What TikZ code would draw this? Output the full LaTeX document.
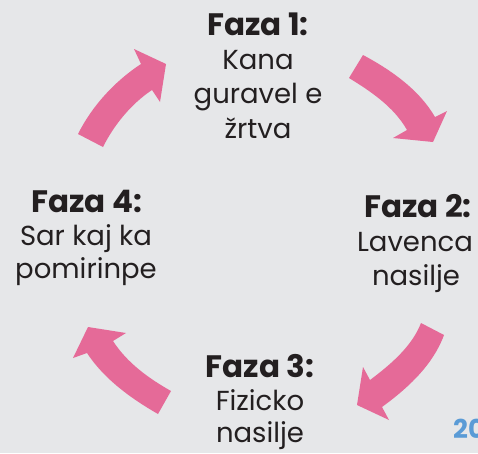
\documentclass[tikz,border=0pt]{standalone}
\usepackage{fontspec}
\setmainfont{Poppins}
\definecolor{bg}{HTML}{E6E7E9}
\definecolor{pinkarrow}{HTML}{E56A98}
\definecolor{txt}{HTML}{231F20}
\definecolor{pageblue}{HTML}{5A9BD6}
\begin{document}
\begin{tikzpicture}[x=1pt,y=-1pt,
  arrowshape/.style={fill=pinkarrow,draw=none},
  head/.style={anchor=base,text=txt,inner sep=0pt,font=\fontsize{31}{34}\selectfont\bfseries},
  body/.style={anchor=base,text=txt,inner sep=0pt,font=\fontsize{27.5}{34}\selectfont}]
\fill[bg] (0,0) rectangle (478,453);
\useasboundingbox (0,0) rectangle (478,453);
% arrows
\fill[arrowshape] (363,55) .. controls (391,70) and (419,89.5) .. (435,117) -- (447,111) -- (433,142) -- (393,138) -- (407,130) .. controls (394,107) and (371,91.5) .. (349,78) -- cycle;
\fill[arrowshape] (444,335) .. controls (433,365) and (408,388) .. (382,407) -- (389,420) -- (357,405) -- (363,367) -- (370,380) .. controls (390,365) and (412,346.5) .. (421,323) -- cycle;
\fill[arrowshape] (158,414) .. controls (131,398.5) and (104,379) .. (87,353) -- (73,358) -- (88,327) -- (126,333) -- (113,341) .. controls (127,362.6) and (148,378) .. (171,391) -- cycle;
\fill[arrowshape] (78,134) .. controls (92,106) and (115,81) .. (141,64) -- (134,49) -- (166,64) -- (160,102) -- (152,90) .. controls (131,104) and (114,125) .. (103,147) -- cycle;
% phase 1
\node[head] (f1h) at (258,35) {Faza 1:};
\node[body] (f1a) at (258,69) {Kana};
\node[body] (f1b) at (258,103) {guravel e};
\node[body] (f1c) at (258,138) {žrtva};
% phase 2
\node[head] (f2h) at (418,217) {Faza 2:};
\node[body] (f2a) at (415,251) {Lavenca};
\node[body] (f2b) at (416,285) {nasilje};
% phase 3
\node[head] (f3h) at (260,377) {Faza 3:};
\node[body] (f3a) at (260,410) {Fizicko};
\node[body] (f3b) at (260,442) {nasilje};
% phase 4
\node[head] (f4h) at (87,212) {Faza 4:};
\node[body] (f4a) at (86,245) {Sar kaj ka};
\node[body] (f4b) at (86,278) {pomirinpe};
% page number
\node[anchor=base west,inner sep=0pt,text=pageblue,font=\fontsize{26}{30}\selectfont\bfseries] (pg) at (453,438) {20};
\end{tikzpicture}
\end{document}
